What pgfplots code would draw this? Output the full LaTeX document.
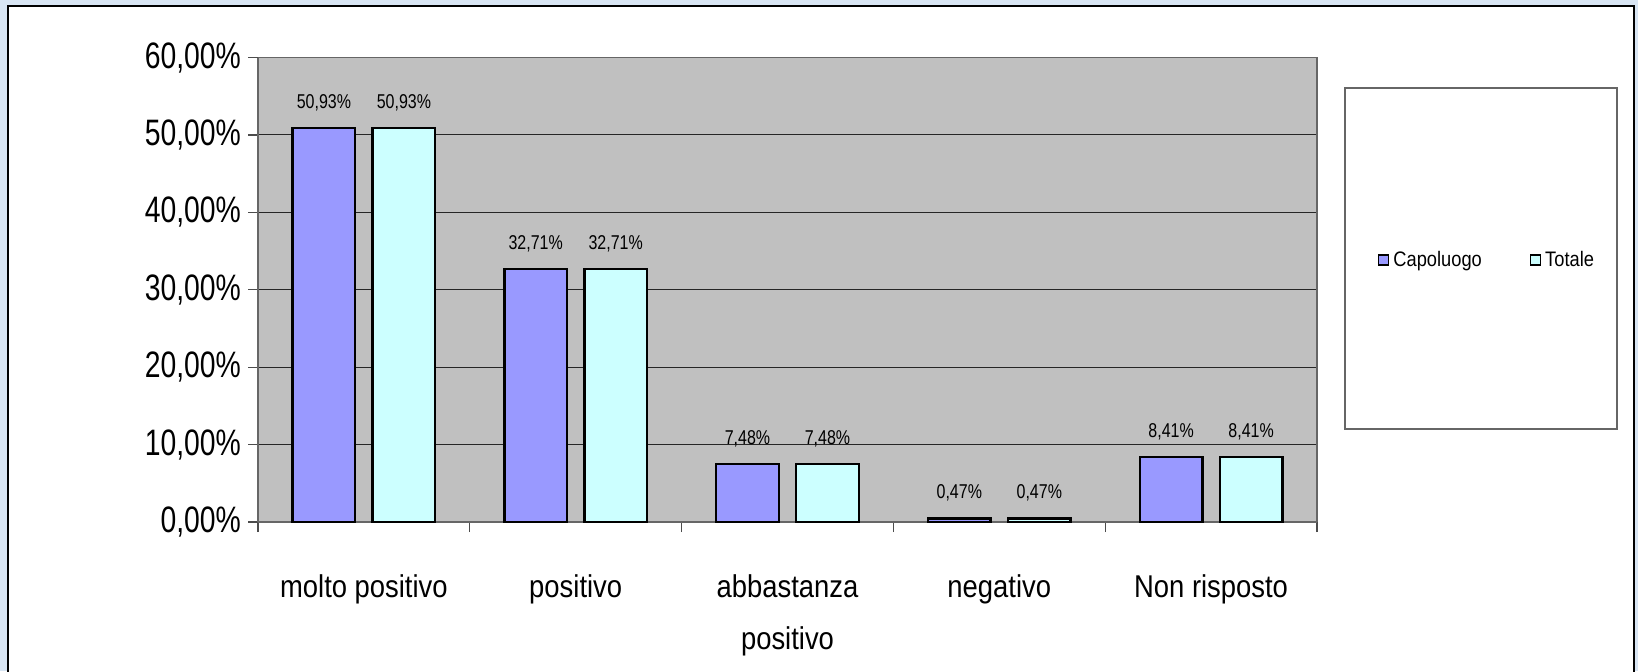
\documentclass[border=0pt]{standalone}
\usepackage{fontspec}
\setmainfont[FakeStretch=0.85]{Liberation Sans}
\newfontfamily\ytickfont[FakeStretch=0.77]{Liberation Sans}
\newfontfamily\catfont[FakeStretch=0.87]{Liberation Sans}
\newfontfamily\datafont[FakeStretch=0.8]{Liberation Sans}
\newfontfamily\legfont[FakeStretch=0.87]{Liberation Sans}
\usepackage{pgfplots}
\pgfplotsset{compat=1.18}
\definecolor{bgblue}{RGB}{216,229,243}
\definecolor{plotgray}{RGB}{192,192,192}
\definecolor{capol}{RGB}{153,153,255}
\definecolor{totale}{RGB}{204,255,255}

\pgfplotstableread{
x y
0 50.93
1 32.71
2 7.48
3 0.47
4 8.41
}\capoluogo
\pgfplotstableread{
x y
0 50.93
1 32.71
2 7.48
3 0.47
4 8.41
}\totale

\begin{document}
\begin{tikzpicture}
\useasboundingbox (0,0) rectangle (819pt,335.5pt);
\fill[bgblue] (0,0) rectangle (819pt,335.5pt);
\filldraw[fill=white, draw=black, line width=0.6pt] (4pt,-5pt) rectangle (817pt,332.5pt);
\draw[black!60, line width=0.6pt, fill=white] (672.5pt,121pt) rectangle (808.5pt,291.5pt);
\begin{axis}[
  at={(129pt,74.5pt)}, anchor=south west,
  scale only axis, width=529.5pt, height=232.25pt,
  xmin=-0.5, xmax=4.5, ymin=0, ymax=60,
  axis background/.style={fill=plotgray},
  axis line style={draw=black!60, line width=0.6pt},
  axis x line*=bottom, axis y line*=left,
  ytick={0,10,...,60},
  yticklabels={{0,00\%},{10,00\%},{20,00\%},{30,00\%},{40,00\%},{50,00\%},{60,00\%}},
  yticklabel style={font=\ytickfont\fontsize{18.4}{20}\selectfont, anchor=east},
  ymajorgrids, major grid style={black!85, line width=0.5pt},
  tick align=outside,
  major tick length=5pt,
  tick style={black!70, line width=0.6pt},
  xtick={-0.5,0.5,...,4.5},
  xticklabels={},
  extra x ticks={0,1,2,3,4},
  extra x tick labels={molto positivo, positivo, {abbastanza\\positivo}, negativo, Non risposto},
  extra x tick style={major tick length=0pt, grid=none,
    xticklabel style={font=\catfont\fontsize{15.75}{26}\selectfont, align=center, anchor=north, yshift=-23pt}},
  /pgf/number format/assume math mode=true,
  legend columns=2,
  legend style={at={(1.1615,0.564)}, anchor=center, draw=none, fill=none,
    font=\legfont\fontsize{10.5}{12}\selectfont,
    /tikz/every even column/.append style={column sep=22pt}},
  clip=false,
]
\addplot[ybar, bar width=31.35pt, bar shift=-20pt, fill=capol, draw=black, line width=1.2pt,
  nodes near coords={\pgfmathprintnumber[fixed,fixed zerofill,precision=2,use comma]{\pgfplotspointmeta}\%},
  nodes near coords style={font=\datafont\fontsize{10}{12}\selectfont, anchor=south, yshift=4.5pt, xshift=-20pt, black},
  legend image code/.code={\draw[fill=capol, draw=black, line width=0.7pt] (0pt,-2.5pt) rectangle (5pt,2.5pt);}]
  table[x=x,y=y] {\capoluogo};
\addlegendentry{Capoluogo}
\addplot[ybar, bar width=31.35pt, bar shift=20pt, fill=totale, draw=black, line width=1.2pt,
  nodes near coords={\pgfmathprintnumber[fixed,fixed zerofill,precision=2,use comma]{\pgfplotspointmeta}\%},
  nodes near coords style={font=\datafont\fontsize{10}{12}\selectfont, anchor=south, yshift=4.5pt, xshift=20pt, black},
  legend image code/.code={\draw[fill=totale, draw=black, line width=0.7pt] (0pt,-2.5pt) rectangle (5pt,2.5pt);}]
  table[x=x,y=y] {\totale};
\addlegendentry{Totale}
\draw[black!60, line width=0.6pt] (rel axis cs:0,1) -- (rel axis cs:1,1) -- (rel axis cs:1,0);
\end{axis}
\end{tikzpicture}
\end{document}
